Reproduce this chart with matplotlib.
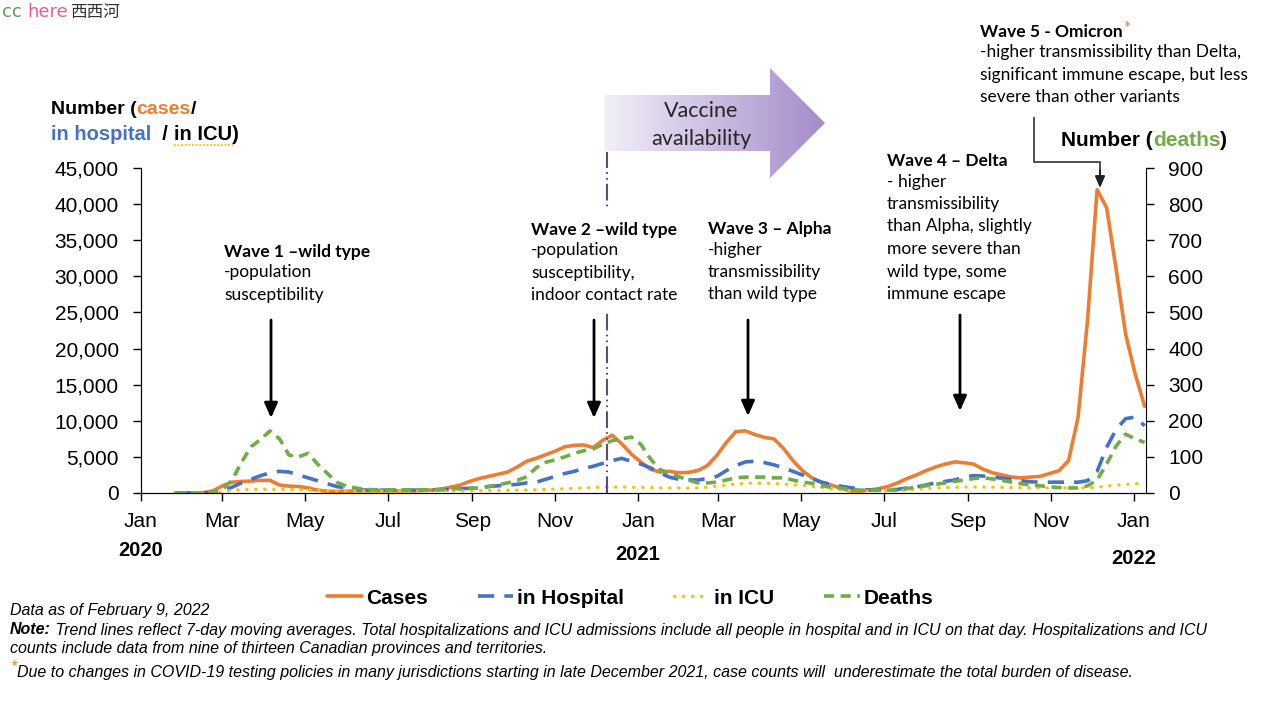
import pandas as pd
import matplotlib
matplotlib.use("Agg")
import matplotlib.pyplot as plt
import matplotlib.dates as mdates
import numpy as np
from matplotlib.patches import Polygon, Rectangle
from matplotlib.colors import LinearSegmentedColormap
from matplotlib.ticker import StrMethodFormatter, MultipleLocator

# Weekly 7-day averages
fechas = pd.date_range("2020-01-26", periods=103, freq="7D")

cases = [0, 0, 0, 50, 300, 1000, 1500, 1600, 1650, 1750,
         1750, 1100, 950, 900, 700, 400, 250, 200, 250, 300,
         300, 300, 300, 300, 300, 300, 350, 400, 550, 800,
         1100, 1600, 2000, 2300, 2600, 2900, 3600, 4400, 4800, 5300,
         5800, 6400, 6600, 6650, 6300, 7300, 8000, 6800, 5400, 4300,
         3300, 2900, 3000, 2800, 2850, 3100, 3800, 5200, 7000, 8500,
         8600, 8100, 7700, 7500, 6200, 4500, 3100, 2100, 1500, 1100,
         700, 300, 250, 400, 600, 900, 1400, 2000, 2500, 3100,
         3600, 4000, 4300, 4200, 4000, 3300, 2800, 2500, 2200, 2100,
         2200, 2300, 2700, 3100, 4500, 10500, 24000, 42000, 39500, 31000,
         22000, 16500, 12000]

hospital = [0, 0, 0, 0, 50, 300, 800, 1400, 1900, 2400,
            2800, 3000, 2900, 2500, 2100, 1700, 1300, 900, 700, 500,
            400, 400, 400, 400, 400, 400, 400, 400, 450, 500,
            600, 650, 700, 900, 1000, 1100, 1200, 1400, 1500, 1900,
            2300, 2700, 3000, 3400, 3700, 4100, 4500, 4800, 4400, 4000,
            3500, 2800, 2200, 1900, 1800, 1800, 2000, 2300, 3100, 3800,
            4300, 4400, 4200, 3900, 3500, 3000, 2500, 2000, 1500, 1200,
            950, 750, 550, 420, 420, 420, 500, 700, 850, 1100,
            1400, 1600, 1800, 2200, 2400, 2350, 2200, 2050, 1900, 1700,
            1550, 1500, 1500, 1500, 1500, 1500, 1700, 3000, 6300, 8800,
            10300, 10500, 9300]

icu = [0, 0, 0, 0, 0, 100, 400, 450, 500, 500,
       500, 500, 500, 480, 420, 350, 300, 300, 300, 300,
       300, 300, 300, 300, 300, 300, 300, 300, 300, 300,
       300, 320, 340, 350, 370, 380, 400, 420, 450, 500,
       550, 600, 650, 700, 750, 800, 820, 820, 800, 780,
       750, 720, 700, 680, 680, 700, 800, 950, 1100, 1250,
       1350, 1380, 1350, 1300, 1250, 1150, 1050, 900, 750, 550,
       420, 350, 300, 300, 300, 300, 350, 420, 500, 600,
       680, 750, 800, 830, 830, 820, 800, 780, 760, 740,
       720, 700, 700, 700, 700, 700, 720, 800, 950, 1100,
       1200, 1300, 1350]

deaths = [0, 0, 0, 0, 2, 10, 35, 85, 128, 148,
          172, 150, 105, 100, 110, 80, 55, 30, 19, 14,
          10, 9, 9, 9, 9, 9, 9, 9, 10, 12,
          12, 13, 14, 18, 23, 28, 35, 45, 70, 85,
          92, 100, 110, 117, 122, 135, 145, 150, 155, 135,
          95, 65, 55, 45, 36, 28, 28, 30, 36, 42,
          44, 44, 44, 42, 42, 36, 30, 27, 20, 16,
          14, 10, 8, 8, 8, 8, 8, 12, 17, 20,
          24, 28, 32, 36, 40, 42, 39, 35, 30, 26,
          22, 20, 17, 15, 14, 14, 20, 36, 80, 130,
          163, 150, 140]

vaccine_date = pd.Timestamp("2020-12-09")

# Colores
naranja = "#ED7D31"
azul = "#4472C4"
amarillo = "#FFC000"
verde = "#70AD47"

fuente = "Liberation Sans"
fuente_txt = "Lato"

fig = plt.figure(figsize=(12.8, 7.2), dpi=100)
ax = fig.add_axes([141 / 1280, 1 - 493 / 720, (1146 - 141) / 1280, 325 / 720])
ax2 = ax.twinx()

l1, = ax.plot(fechas, cases, color=naranja, lw=2.6, label="Cases", solid_capstyle="round")
l2, = ax.plot(fechas, hospital, color=azul, lw=2.6, ls=(0, (4.5, 2.8)), label="in Hospital")
l3, = ax.plot(fechas, icu, color=amarillo, lw=2.4, ls=(0, (0.1, 2.6)),
              dash_capstyle="round", label="in ICU")
l4, = ax2.plot(fechas, deaths, color=verde, lw=2.6, ls=(0, (2.8, 1.8)), label="Deaths")

# Ejes
ax.set_xlim(pd.Timestamp("2020-01-01"), pd.Timestamp("2022-01-10"))
ax.set_ylim(0, 45000)
ax2.set_ylim(0, 900)
ax.yaxis.set_major_locator(MultipleLocator(5000))
ax.yaxis.set_major_formatter(StrMethodFormatter("{x:,.0f}"))
ax2.yaxis.set_major_locator(MultipleLocator(100))
ax.xaxis.set_major_locator(mdates.MonthLocator(bymonth=[1, 3, 5, 7, 9, 11]))
ax.xaxis.set_major_formatter(mdates.DateFormatter("%b"))

for a in (ax, ax2):
    a.spines["top"].set_visible(False)
    a.tick_params(labelsize=15, length=6, width=1, pad=10, colors="black")
    for lab in a.get_xticklabels() + a.get_yticklabels():
        lab.set_fontfamily(fuente)
ax.tick_params(axis="x", pad=8)
ax.spines["right"].set_visible(False)

# Años
for yr, yy in [("2020", -0.178), ("2021", -0.19), ("2022", -0.203)]:
    ax.text(pd.Timestamp(yr + "-01-01"), yy, yr, transform=ax.get_xaxis_transform(),
            ha="center", va="center", fontsize=14.5, fontweight="bold", family=fuente)

# Línea de vacunas
ax.vlines(vaccine_date, 0, 45000 * (493 - 152) / 325, colors="#604A7B", lw=1.5,
          linestyles=(0, (8, 2, 0.8, 2, 0.8, 2)), clip_on=False, zorder=5)

# Capa de anotaciones en píxeles
ov = fig.add_axes([0, 0, 1, 1], facecolor="none")
ov.set_xlim(0, 1280)
ov.set_ylim(720, 0)
ov.axis("off")
rend = fig.canvas.get_renderer()


def texto_partes(x, y, partes, **kw):
    for s, props in partes:
        t = ov.text(x, y, s, **kw, **props)
        x += t.get_window_extent(renderer=rend).width
    return x


# Logo
ov.text(2, 12, "cc", fontsize=13, va="center", color="#5AA05A", family="DejaVu Sans")
ov.text(27, 12, "here", fontsize=13, va="center", color="#E0609A", family="DejaVu Sans")
ov.text(70, 12, "西西河", fontsize=12, va="center", color="#333333",
        family=["Noto Sans CJK SC", "DejaVu Sans"])

# Títulos de ejes
bold = dict(fontweight="bold", family=fuente, va="center")
texto_partes(51, 110, [("Number (", {}), ("cases", dict(color=naranja)), ("/", {})],
             fontsize=14, **bold)
xx = texto_partes(51, 134, [("in hospital", dict(color=azul)), ("  / ", {})],
                  fontsize=14.5, **bold)
x_end = texto_partes(xx, 134, [("in ICU)", {})], fontsize=14.5, **bold)
ov.plot([xx, x_end - 4], [145, 145], color=amarillo, lw=1.3, ls=(0, (1, 1)))
texto_partes(1061, 140, [("Number (", {}), ("deaths", dict(color=verde)), (")", {})],
             fontsize=15, **bold)

# Flecha de vacunas con degradado
pts = [(605, 95), (770, 95), (770, 68), (825, 123), (770, 178), (770, 151), (605, 151)]
poly = Polygon(pts, closed=True, facecolor="none", edgecolor="none")
ov.add_patch(poly)
grad = np.linspace(0, 1, 256).reshape(1, -1)
cmap = LinearSegmentedColormap.from_list("vac", ["#F2EEF8", "#A48BCA"])
im = ov.imshow(grad, extent=(605, 825, 178, 68), cmap=cmap, aspect="auto", zorder=1)
im.set_clip_path(poly)
ov.set_xlim(0, 1280)
ov.set_ylim(720, 0)
ov.text(701, 125, "Vaccine\navailability", ha="center", va="center", fontsize=15.5,
        family=fuente_txt, linespacing=1.45, color="#262626", zorder=2)

# Fondo blanco del cuadro de la ola 2 (tapa la línea de vacunas)
ov.add_patch(Rectangle((528, 208), 154, 105, facecolor="white", edgecolor="none", zorder=0))

# Textos de olas
tsize = 12.5
def ola(x, y, titulo, cuerpo, extra=None):
    t = ov.text(x, y, titulo, fontsize=tsize, fontweight="bold", family=fuente_txt, va="center")
    if extra:
        w = t.get_window_extent(renderer=rend).width
        ov.text(x + w + 1, y - 3, extra, fontsize=tsize, color=naranja, family=fuente_txt, va="center")
    ov.text(x, y + 12.5, cuerpo, fontsize=tsize, family=fuente_txt, va="top", linespacing=1.5)

ola(224, 252, "Wave 1 \u2013wild type", "-population\nsusceptibility")
ola(531, 230, "Wave 2 \u2013wild type", "-population\nsusceptibility,\nindoor contact rate")
ola(708, 229, "Wave 3 \u2013 Alpha", "-higher\ntransmissibility\nthan wild type")
ola(887, 161, "Wave 4 \u2013 Delta",
    "- higher\ntransmissibility\nthan Alpha, slightly\nmore severe than\nwild type, some\nimmune escape")
ola(980, 32, "Wave 5 - Omicron",
    "-higher transmissibility than Delta,\nsignificant immune escape, but less\nsevere than other variants",
    extra="*")

# Flechas
for x0, y0, y1 in [(271, 320, 418), (594, 320, 418), (748, 320, 416), (960, 315, 411)]:
    ov.annotate("", xy=(x0, y1), xytext=(x0, y0),
                arrowprops=dict(arrowstyle="-|>,head_length=0.9,head_width=0.4",
                                color="black", lw=2, shrinkA=0, shrinkB=0))
ov.plot([1034, 1034, 1100, 1100], [118, 162, 162, 175], color="#404040", lw=1.3)
ov.annotate("", xy=(1100, 188), xytext=(1100, 170),
            arrowprops=dict(arrowstyle="-|>,head_length=0.7,head_width=0.3",
                            color="#202020", lw=1.3, shrinkA=0, shrinkB=0))

# Leyenda
fig.legend(handles=[l1, l2, l3, l4], loc="center", bbox_to_anchor=(630 / 1280, 1 - 598 / 720),
           ncol=4, frameon=False, handlelength=1.7, columnspacing=2.4, handletextpad=0.2,
           prop=dict(family=fuente, weight="bold", size=15))

# Notas
nota = dict(fontsize=11.5, style="italic", family=fuente, va="center")
ov.text(10, 610, "Data as of February 9, 2022", **nota)
texto_partes(10, 630, [("Note:", dict(fontweight="bold")),
                       (" Trend lines reflect 7-day moving averages. Total hospitalizations and ICU admissions "
                        "include all people in hospital and in ICU on that day. Hospitalizations and ICU", {})],
             **nota)
ov.text(10, 649, "counts include data from nine of thirteen Canadian provinces and territories.", **nota)
ov.text(10, 667, "*", color=naranja, **nota)
ov.text(17, 673, "Due to changes in COVID-19 testing policies in many jurisdictions starting in late "
        "December 2021, case counts will  underestimate the total burden of disease.", **nota)

fig.savefig("out.png", dpi=100)
